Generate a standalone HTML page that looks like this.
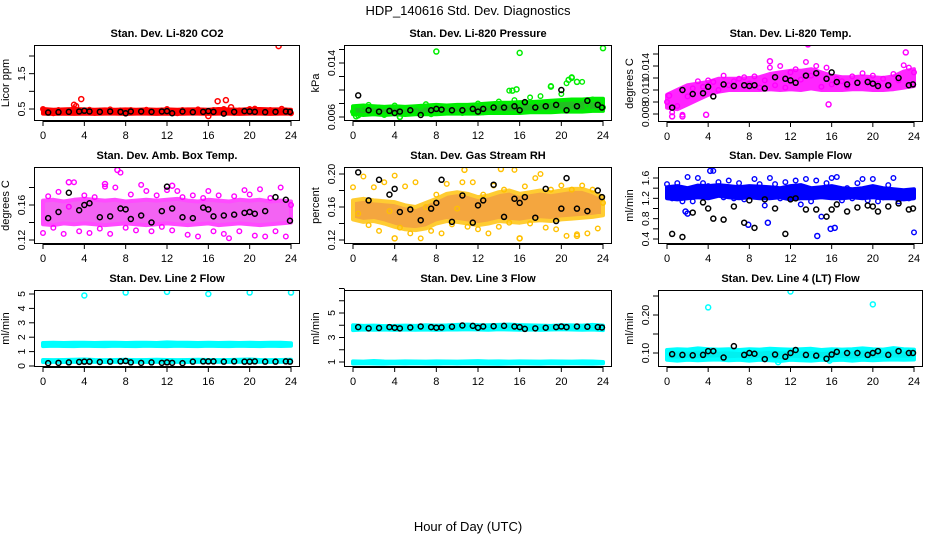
<!DOCTYPE html>
<html><head><meta charset="utf-8">
<style>
html,body{margin:0;padding:0;background:#fff;}
svg{display:block;font-family:"Liberation Sans",sans-serif;}
</style></head>
<body>
<svg id="chart" width="936" height="540" viewBox="0 0 936 540" xmlns="http://www.w3.org/2000/svg">
<text x="468" y="15" text-anchor="middle" font-size="13">HDP_140616  Std. Dev. Diagnostics</text>
<text x="468" y="531" text-anchor="middle" font-size="13">Hour of Day (UTC)</text>
</svg>
<script>
const hours25 = [0,1,2,3,4,5,6,7,8,9,10,11,12,13,14,15,16,17,18,19,20,21,22,23,24];
const half49 = [0,0.5,1,1.5,2,2.5,3,3.5,4,4.5,5,5.5,6,6.5,7,7.5,8,8.5,9,9.5,10,10.5,11,11.5,12,12.5,13,13.5,14,14.5,15,15.5,16,16.5,17,17.5,18,18.5,19,19.5,20,20.5,21,21.5,22,22.5,23,23.5,24];
const blackHours = [0.5,1.5,2.5,3.5,4,4.5,5.5,6.5,7.5,8,8.5,9.5,10.5,11.5,12,12.5,13.5,14.5,15.5,16,16.5,17.5,18.5,19.5,20,20.5,21.5,22.5,23.5,23.9];
const xTicks = [0,4,8,12,16,20,24];

// Panel 1: CO2
const co2Lo = [0.37,0.36,0.37,0.36,0.37,0.36,0.37,0.37,0.36,0.37,0.37,0.36,0.37,0.36,0.37,0.37,0.36,0.37,0.37,0.36,0.37,0.37,0.36,0.37,0.37];
const co2Hi = [0.5,0.48,0.49,0.5,0.49,0.48,0.49,0.48,0.49,0.48,0.49,0.48,0.49,0.48,0.49,0.49,0.48,0.5,0.49,0.48,0.5,0.5,0.49,0.49,0.48];
const co2Pts = [0.5,0.45,0.38,0.47,0.44,0.4,0.52,0.46,0.41,0.48,0.39,0.45,0.43,0.49,0.4,0.46,0.37,0.47,0.44,0.41,0.48,0.43,0.4,0.46,0.5,0.42,0.38,0.47,0.44,0.41,0.49,0.45,0.4,0.47,0.43,0.5,0.44,0.39,0.46,0.42,0.5,0.51,0.44,0.4,0.47,0.43,0.41,0.46,0.38];
const co2Blk = [0.4,0.41,0.42,0.43,0.45,0.43,0.42,0.43,0.42,0.38,0.43,0.43,0.42,0.43,0.44,0.38,0.43,0.41,0.42,0.44,0.42,0.37,0.42,0.44,0.43,0.42,0.41,0.42,0.43,0.42];
const co2OutX = [3,3.2,3.7,16,16.9,17.7,18.2,22.8,23.1];
const co2OutY = [0.62,0.58,0.78,0.3,0.72,0.75,0.55,2.28,0.5];

// Panel 2: Pressure
const presLo = [0.0064,0.0063,0.0064,0.0063,0.0064,0.0063,0.0064,0.0064,0.0064,0.0065,0.0065,0.0065,0.0065,0.0066,0.0066,0.0066,0.0066,0.0067,0.0067,0.0067,0.0068,0.0068,0.0068,0.0069,0.0069];
const presHi = [0.0076,0.0077,0.0076,0.0075,0.0076,0.0075,0.0076,0.0077,0.0078,0.0077,0.0078,0.0078,0.0079,0.0080,0.0081,0.0081,0.0082,0.0082,0.0083,0.0084,0.0085,0.0086,0.0086,0.0087,0.0087];
const presPts = [0.0068,0.0062,0.0072,0.0078,0.0066,0.0074,0.0063,0.0071,0.0077,0.0060,0.0069,0.0073,0.0066,0.0075,0.0079,0.0064,0.0070,0.0075,0.0068,0.0072,0.0076,0.0066,0.0074,0.0069,0.0080,0.0067,0.0078,0.0072,0.0083,0.0074,0.0099,0.0085,0.0076,0.0082,0.0089,0.0078,0.0091,0.0070,0.0106,0.0080,0.0094,0.0110,0.0119,0.0084,0.0112,0.0076,0.0086,0.0079,0.0074];
const presBlk = [0.0092,0.0070,0.0068,0.0069,0.0066,0.0068,0.0070,0.0063,0.0070,0.0072,0.0071,0.0070,0.0070,0.0072,0.0068,0.0072,0.0074,0.0074,0.0076,0.0070,0.0082,0.0074,0.0076,0.0078,0.0100,0.0070,0.0076,0.0084,0.0078,0.0074];
const presOutX = [8,16,24,20.7,21,21.5,15.3,15.7,19,4.5,0.3];
const presOutY = [0.0157,0.0155,0.0162,0.0115,0.0118,0.0112,0.0099,0.0101,0.0105,0.0060,0.0061];

// Panel 3: Li-820 temperature
const tempLo = [0.0088,0.0086,0.0092,0.0098,0.0104,0.0108,0.0110,0.0110,0.0110,0.0110,0.0111,0.0110,0.0111,0.0110,0.0112,0.0110,0.0110,0.0110,0.0111,0.0111,0.0110,0.0110,0.0111,0.0113,0.0115];
const tempHi = [0.0104,0.0110,0.0116,0.0118,0.0120,0.0124,0.0124,0.0124,0.0125,0.0126,0.0130,0.0132,0.0134,0.0134,0.0136,0.0132,0.0128,0.0126,0.0126,0.0127,0.0126,0.0125,0.0127,0.0133,0.0136];
const tempPts = [0.0095,0.0082,0.0090,0.0079,0.0102,0.0112,0.0121,0.0114,0.0122,0.0120,0.0110,0.0128,0.0116,0.0121,0.0124,0.0126,0.0118,0.0127,0.0113,0.0122,0.0138,0.0116,0.0140,0.0113,0.0132,0.0136,0.0123,0.0145,0.0128,0.0140,0.0114,0.0138,0.0117,0.0124,0.0121,0.0114,0.0127,0.0119,0.0131,0.0122,0.0128,0.0118,0.0124,0.0115,0.0130,0.0122,0.0141,0.0138,0.0132];
const tempBlk = [0.0088,0.0110,0.0105,0.0106,0.0114,0.0102,0.0117,0.0115,0.0116,0.0115,0.0116,0.0112,0.0126,0.0124,0.0122,0.0119,0.0128,0.0131,0.0124,0.0132,0.0120,0.0117,0.0119,0.0120,0.0118,0.0115,0.0116,0.0125,0.0116,0.0117];
const tempOutX = [0.5,1.5,3.8,15.7,13.7,23.2,10,0.2];
const tempOutY = [0.0077,0.0077,0.0079,0.0092,0.0167,0.0157,0.0146,0.0103];

// Panel 4: ambient box temperature
const ambLo = [0.138,0.137,0.139,0.138,0.139,0.138,0.137,0.138,0.139,0.138,0.137,0.138,0.139,0.138,0.137,0.138,0.139,0.137,0.138,0.139,0.138,0.137,0.138,0.139,0.140];
const ambHi = [0.165,0.166,0.164,0.166,0.167,0.166,0.165,0.166,0.164,0.165,0.166,0.165,0.166,0.167,0.165,0.164,0.166,0.165,0.164,0.166,0.165,0.166,0.164,0.165,0.164];
const ambPts = [0.128,0.170,0.134,0.175,0.127,0.158,0.186,0.130,0.171,0.128,0.169,0.133,0.181,0.127,0.180,0.197,0.134,0.172,0.131,0.183,0.176,0.130,0.171,0.135,0.177,0.131,0.176,0.169,0.126,0.171,0.124,0.168,0.176,0.130,0.171,0.127,0.122,0.170,0.130,0.177,0.172,0.125,0.178,0.124,0.168,0.130,0.180,0.124,0.160];
const ambBlk = [0.145,0.152,0.174,0.154,0.160,0.162,0.146,0.147,0.156,0.155,0.144,0.148,0.140,0.153,0.181,0.156,0.146,0.145,0.157,0.155,0.147,0.148,0.149,0.151,0.152,0.150,0.153,0.169,0.166,0.142];
const ambOutX = [7.2,2.5,6,12.5];
const ambOutY = [0.200,0.186,0.184,0.182];

// Panel 5: gas stream RH
const rhLo = [0.145,0.142,0.143,0.140,0.136,0.133,0.132,0.134,0.140,0.143,0.142,0.140,0.138,0.140,0.143,0.142,0.141,0.143,0.144,0.143,0.145,0.146,0.147,0.148,0.150];
const rhHi = [0.168,0.170,0.168,0.167,0.166,0.162,0.160,0.165,0.170,0.176,0.178,0.176,0.172,0.174,0.178,0.180,0.176,0.178,0.180,0.178,0.180,0.182,0.182,0.178,0.172];
const rhPts = [0.184,0.152,0.197,0.138,0.184,0.131,0.190,0.155,0.198,0.135,0.185,0.128,0.190,0.122,0.160,0.131,0.175,0.128,0.188,0.139,0.158,0.190,0.136,0.190,0.133,0.175,0.128,0.186,0.136,0.181,0.141,0.205,0.122,0.185,0.140,0.195,0.200,0.135,0.181,0.133,0.186,0.125,0.181,0.127,0.186,0.128,0.181,0.134,0.165];
const rhBlk = [0.202,0.168,0.193,0.175,0.182,0.154,0.157,0.144,0.158,0.165,0.193,0.142,0.174,0.141,0.162,0.168,0.187,0.148,0.170,0.165,0.172,0.147,0.182,0.143,0.158,0.195,0.158,0.155,0.180,0.172];
const rhOutX = [4,10.7,14.2,16,21.5];
const rhOutY = [0.122,0.205,0.206,0.122,0.125];

// Panel 6: sample flow
const flowLo = [1.2,1.18,1.2,1.22,1.2,1.25,1.22,1.2,1.22,1.2,1.2,1.22,1.18,1.2,1.2,1.22,1.2,1.2,1.22,1.2,1.22,1.2,1.2,1.18,1.2];
const flowHi = [1.42,1.44,1.4,1.45,1.44,1.46,1.44,1.42,1.44,1.43,1.42,1.4,1.44,1.46,1.4,1.42,1.44,1.4,1.38,1.4,1.44,1.4,1.38,1.36,1.38];
const flowPts = [1.48,1.2,1.5,1.14,1.62,1.14,1.6,1.5,1.44,1.74,1.52,1.22,1.55,1.2,1.5,1.18,1.24,1.58,1.48,1.06,1.6,1.48,1.2,1.52,1.2,1.55,1.08,1.58,1.14,1.55,0.84,1.5,1.6,1.62,1.16,1.4,1.2,1.5,1.58,1.16,1.58,1.14,1.22,1.46,1.6,1.14,1.3,1.2,0.53];
const flowBlk = [0.5,0.44,0.92,1.12,1.0,0.8,0.78,1.04,0.72,1.16,0.62,1.18,1.0,0.5,1.18,1.2,0.98,0.98,0.84,0.98,1.08,0.94,1.02,1.06,1.04,0.94,1.04,1.1,0.98,1.0];
const flowOutX = [1.8,2,7.9,9.8,15.9,16.3,14.6,4.2];
const flowOutY = [0.94,0.9,0.68,0.72,0.6,0.62,0.46,1.74];

// Panel 7: Line 2 flow
const l2aLo = [1.38,1.4,1.39,1.38,1.4,1.39,1.38,1.4,1.39,1.38,1.4,1.39,1.38,1.4,1.39,1.38,1.4,1.39,1.38,1.4,1.39,1.38,1.4,1.39,1.4];
const l2aHi = [1.6,1.62,1.6,1.61,1.62,1.6,1.61,1.62,1.6,1.61,1.62,1.6,1.64,1.61,1.62,1.6,1.61,1.6,1.61,1.6,1.62,1.6,1.61,1.62,1.58];
const l2bLo = [0.28,0.29,0.28,0.29,0.28,0.29,0.28,0.29,0.28,0.29,0.28,0.29,0.28,0.29,0.28,0.29,0.28,0.29,0.28,0.29,0.28,0.29,0.28,0.29,0.28];
const l2bHi = [0.42,0.41,0.42,0.43,0.45,0.42,0.41,0.42,0.43,0.41,0.42,0.43,0.42,0.41,0.42,0.43,0.42,0.41,0.42,0.43,0.45,0.42,0.41,0.42,0.43];
const l2Blk = [0.2,0.22,0.25,0.28,0.3,0.3,0.28,0.3,0.32,0.35,0.25,0.22,0.25,0.22,0.25,0.22,0.2,0.3,0.32,0.32,0.32,0.3,0.32,0.3,0.3,0.32,0.3,0.3,0.32,0.3];
const l2OutX = [4,8,12,16,20,24];
const l2OutY = [4.9,5.1,5.15,5.0,5.1,5.1];

// Panel 8: Line 3 flow
const l3aLo = [0.88,0.89,0.88,0.87,0.89,0.88,0.89,0.88,0.87,0.89,0.88,0.89,0.88,0.87,0.85,0.88,0.89,0.88,0.87,0.89,0.88,0.89,0.88,0.87,0.89];
const l3aHi = [1.05,1.03,1.08,1.04,1.03,1.05,1.04,1.03,1.05,1.04,1.03,1.05,1.07,1.04,1.05,1.03,1.05,1.04,1.03,1.05,1.04,1.03,1.05,1.04,1.0];
const l3bLo = [3.6,3.65,3.63,3.65,3.62,3.65,3.63,3.65,3.62,3.65,3.65,3.67,3.65,3.63,3.67,3.65,3.63,3.65,3.62,3.65,3.67,3.65,3.63,3.65,3.6];
const l3bHi = [4.0,3.95,3.97,3.93,3.95,3.97,3.95,4.0,3.97,3.99,4.03,4.05,4.01,4.0,4.03,4.05,4.01,3.99,3.97,3.95,4.0,3.99,3.97,4.03,3.97];
const l3Blk = [3.85,3.75,3.78,3.85,3.8,3.75,3.82,3.9,3.85,3.8,3.82,3.88,3.98,3.95,3.8,3.9,3.92,3.95,3.9,3.85,3.7,3.75,3.8,3.85,3.9,3.85,3.9,3.88,3.85,3.82];
const l3OutX = [4,8,12,16,20,24];
const l3OutY = [7.4,8.1,8.0,8.05,7.8,8.1];

// Panel 9: Line 4 (LT) flow
const l4Lo = [0.082,0.08,0.082,0.081,0.082,0.083,0.081,0.082,0.08,0.082,0.081,0.079,0.082,0.081,0.08,0.082,0.081,0.082,0.08,0.082,0.081,0.082,0.083,0.082,0.083];
const l4Hi = [0.108,0.11,0.109,0.112,0.11,0.109,0.11,0.108,0.11,0.109,0.111,0.11,0.109,0.11,0.111,0.108,0.11,0.109,0.11,0.112,0.11,0.109,0.113,0.11,0.109];
const l4Blk = [0.097,0.095,0.094,0.095,0.105,0.105,0.088,0.118,0.095,0.1,0.098,0.084,0.096,0.09,0.1,0.108,0.095,0.093,0.085,0.096,0.103,0.1,0.1,0.095,0.1,0.105,0.095,0.105,0.1,0.1];
const l4OutX = [4,12,20,10.8,15.8];
const l4OutY = [0.22,0.262,0.228,0.076,0.08];

const svg = document.getElementById('chart');
const NS = 'http://www.w3.org/2000/svg';
function mk(tag, attrs, parent) {
  const e = document.createElementNS(NS, tag);
  for (const k in attrs) e.setAttribute(k, attrs[k]);
  (parent || svg).appendChild(e);
  return e;
}

const panels = [
  {key:'co2', title:'Stan. Dev. Li-820 CO2', ylab:'Licor ppm', box:[34,300,45,121], yRef:[0.5,109,2.0,56], ticks:[0.5,1.0,1.5,2.0], labels:[0.5,1.5], lf:1,
   color:'#ff0000', fill:'#ff0000', op:1, bands:[[co2Lo,co2Hi]], pts:co2Pts, blk:co2Blk, outX:co2OutX, outY:co2OutY},
  {key:'pressure', title:'Stan. Dev. Li-820 Pressure', ylab:'kPa', box:[344,612,45,121], yRef:[0.006,117,0.014,63], ticks:[0.006,0.008,0.010,0.012,0.014,0.016], labels:[0.006,0.014], lf:3,
   color:'#00ee00', fill:'#22c022', op:1, bands:[[presLo,presHi]], pts:presPts, blk:presBlk, outX:presOutX, outY:presOutY},
  {key:'li820-temp', title:'Stan. Dev. Li-820 Temp.', ylab:'degrees C', box:[658,923,45,122], yRef:[0.008,114,0.0095,102], ticks:[0.008,0.0095,0.011,0.0125,0.014,0.0155], labels:[0.008,0.011,0.014], lf:3,
   color:'#ff00ff', fill:'#ff00ff', op:0.85, bands:[[tempLo,tempHi]], pts:tempPts, blk:tempBlk, outX:tempOutX, outY:tempOutY},
  {key:'amb-temp', title:'Stan. Dev. Amb. Box Temp.', ylab:'degrees C', box:[34,300,167,244], yRef:[0.12,240,0.16,205], ticks:[0.12,0.14,0.16,0.18], labels:[0.12,0.16], lf:2,
   color:'#ff00ff', fill:'#ee22ee', op:0.7, bands:[[ambLo,ambHi]], pts:ambPts, blk:ambBlk, outX:ambOutX, outY:ambOutY},
  {key:'rh', title:'Stan. Dev. Gas Stream RH', ylab:'percent', box:[344,612,167,244], yRef:[0.12,240,0.20,174], ticks:[0.12,0.14,0.16,0.18,0.20], labels:[0.12,0.16,0.20], lf:2,
   color:'#ffc000', fill:'#f29010', op:0.8, bands:[[rhLo,rhHi]], pts:rhPts, blk:rhBlk, outX:rhOutX, outY:rhOutY},
  {key:'sample-flow', title:'Stan. Dev. Sample Flow', ylab:'ml/min', box:[658,923,167,244], yRef:[0.4,239,1.6,178], ticks:[0.4,0.6,0.8,1.0,1.2,1.4,1.6], labels:[0.4,0.8,1.2,1.6], lf:1,
   color:'#0000ff', fill:'#0000ff', op:1, bands:[[flowLo,flowHi]], pts:flowPts, blk:flowBlk, outX:flowOutX, outY:flowOutY},
  {key:'line2-flow', title:'Stan. Dev. Line 2 Flow', ylab:'ml/min', box:[34,300,290,367], yRef:[0,366,5,294], ticks:[0,1,2,3,4,5], labels:[0,1,2,3,4,5], lf:0,
   color:'#00ffff', fill:'#00f0f0', op:1, bands:[[l2aLo,l2aHi],[l2bLo,l2bHi]], pts:[], blk:l2Blk, outX:l2OutX, outY:l2OutY},
  {key:'line3-flow', title:'Stan. Dev. Line 3 Flow', ylab:'ml/min', box:[344,612,290,367], yRef:[1,362,5,313], ticks:[1,2,3,4,5,6,7], labels:[1,3,5], lf:0,
   color:'#00ffff', fill:'#00f0f0', op:1, bands:[[l3aLo,l3aHi],[l3bLo,l3bHi]], pts:[], blk:l3Blk, outX:l3OutX, outY:l3OutY},
  {key:'line4-flow', title:'Stan. Dev. Line 4 (LT) Flow', ylab:'ml/min', box:[658,923,290,367], yRef:[0.10,353,0.20,315], ticks:[0.10,0.15,0.20,0.25], labels:[0.10,0.20], lf:2,
   color:'#00ffff', fill:'#00f0f0', op:1, bands:[[l4Lo,l4Hi]], pts:[], blk:l4Blk, outX:l4OutX, outY:l4OutY}
];

panels.forEach(p => {
  const [L, R, T, B] = p.box;
  const xs = h => (L + 9) + h / 24 * (R - L - 18);
  const ys = v => p.yRef[1] + (v - p.yRef[0]) / (p.yRef[2] - p.yRef[0]) * (p.yRef[3] - p.yRef[1]);
  const g = mk('g', {});
  
  
  const clip = mk('clipPath', {id: 'clip-' + p.key}, g);
  mk('rect', {x: L, y: T, width: R - L, height: B - T}, clip);
  const plot = mk('g', {'clip-path': 'url(#clip-' + p.key + ')'}, g);
  
  

  p.bands.forEach((bd, bi) => {
    const [lo, hi] = bd;
    let d = '';
    hours25.forEach((h, i) => { d += (i ? 'L' : 'M') + xs(h).toFixed(1) + ' ' + ys(hi[i]).toFixed(1); });
    for (let i = hours25.length - 1; i >= 0; i--) d += 'L' + xs(hours25[i]).toFixed(1) + ' ' + ys(lo[i]).toFixed(1);
    const band = mk('path', {d: d + 'Z', fill: p.fill, stroke: p.color, 'stroke-width': 4, 'stroke-linejoin': 'round', opacity: p.op}, plot);
    
    
  });
  p.pts.forEach((v, i) => {
    const c = mk('circle', {cx: xs(half49[i]), cy: ys(v), r: 2.3, fill: 'none', stroke: p.color, 'stroke-width': 1.4}, plot);
    
    
  });
  p.outX.forEach((h, i) => {
    const c = mk('circle', {cx: xs(h), cy: ys(p.outY[i]), r: 2.5, fill: 'none', stroke: p.color, 'stroke-width': 1.5}, plot);
    
    
  });
  p.blk.forEach((v, i) => {
    const c = mk('circle', {cx: xs(blackHours[i]), cy: ys(v), r: 2.5, fill: 'none', stroke: '#000', 'stroke-width': 1.5}, plot);
    
    
  });

  const fr = mk('rect', {x: L + 0.5, y: T + 0.5, width: R - L - 1, height: B - T - 1, fill: 'none', stroke: '#000', 'stroke-width': 1}, g);
  
  

  const t = mk('text', {x: (L + R) / 2, y: T - 8, 'text-anchor': 'middle', 'font-size': 11, 'font-weight': 'bold'}, g);
  t.textContent = p.title;
  
  

  const xa = mk('g', {}, g);
  
  
  mk('line', {x1: xs(0), x2: xs(24), y1: B + 0.5, y2: B + 0.5, stroke: '#000'}, xa);
  xTicks.forEach(h => {
    mk('line', {x1: xs(h), x2: xs(h), y1: B, y2: B + 5, stroke: '#000'}, xa);
    const tl = mk('text', {x: xs(h), y: B + 18, 'text-anchor': 'middle', 'font-size': 11}, xa);
    tl.textContent = h;
    
    
  });

  const ya = mk('g', {}, g);
  
  
  const ty = p.ticks.map(ys);
  mk('line', {x1: L + 0.5, x2: L + 0.5, y1: Math.min(...ty), y2: Math.max(...ty), stroke: '#000'}, ya);
  p.ticks.forEach(v => {
    mk('line', {x1: L - 5, x2: L, y1: ys(v), y2: ys(v), stroke: '#000'}, ya);
  });
  p.labels.forEach(v => {
    const X = L - 9, Y = ys(v);
    const tl = mk('text', {x: X, y: Y, 'text-anchor': 'middle', 'font-size': 10.5, transform: 'rotate(-90 ' + X + ' ' + Y + ')'}, ya);
    tl.textContent = v.toFixed(p.lf);
    
    
  });
  const yx = L - 25, yy = (T + B) / 2;
  const yl = mk('text', {x: yx, y: yy, 'text-anchor': 'middle', 'font-size': 11, transform: 'rotate(-90 ' + yx + ' ' + yy + ')'}, g);
  yl.textContent = p.ylab;
  
  
});
</script>
</body></html>
